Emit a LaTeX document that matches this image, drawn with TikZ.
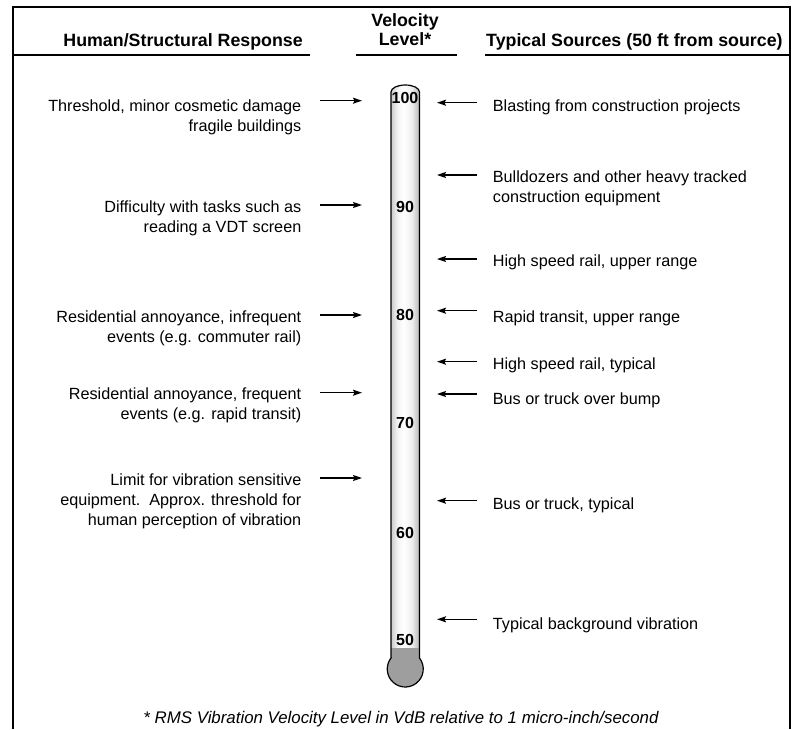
\documentclass[tikz,border=0pt]{standalone}
\usepackage{fontspec}
\setmainfont{Liberation Sans}
\usetikzlibrary{arrows.meta}
\definecolor{bulbgray}{gray}{0.62}
\pgfdeclarehorizontalshading{tubeshade}{100bp}{color(0bp)=(gray!42); color(25bp)=(gray!42);
	color(36bp)=(gray!10); color(47bp)=(white); color(62bp)=(gray!14); color(75bp)=(gray!58); color(100bp)=(gray!58)}
\tikzset{
	resp/.style={anchor=north east,align=right,inner sep=0pt,font=\fontsize{16.2}{20}\selectfont},
	source/.style={anchor=north west,align=left,inner sep=0pt,font=\fontsize{16.2}{20}\selectfont},
	colhead/.style={inner sep=0pt,font=\bfseries\fontsize{17.8}{19}\selectfont},
	level/.style={inner sep=0pt,font=\bfseries\fontsize{16}{16}\selectfont},
	arr/.style={-{Stealth[length=9pt,width=6pt,inset=1.5pt]},line width=1.4pt},
	rule/.style={line width=2pt},
}
\begin{document}
\begin{tikzpicture}[x=1pt,y=-1pt]
	\useasboundingbox (0,0) rectangle (793,729);
	% frame and column heads
	\draw [rule] (13,729) -- (13,7) -- (790,7) -- (790,729);
	\node [colhead,anchor=base east] (hresp) at (303,46.5) {Human/Structural Response};
	\node [colhead,anchor=north,align=center] (hlevel) at (405,13.5) {Velocity\\Level*};
	\node [colhead,anchor=base west] (hsrc) at (486,46.5) {Typical Sources (50 ft from source)};
	\draw [rule] (13,54.5) -- (310,54.5);
	\draw [rule] (356,54.5) -- (457,54.5);
	\draw [rule] (485,54.5) -- (790,54.5);
	% thermometer
	\shade [shading=tubeshade]
		(391,659) -- (391,92) arc [start angle=180,end angle=360,x radius=14.25,y radius=7] -- (419.5,659) -- cycle;
	\fill [bulbgray] (391,647.5) rectangle (419.5,662);
	\fill [bulbgray] (405.25,669) circle [radius=18];
	\draw [line width=1.2pt] (391,658) -- (391,92) arc [start angle=180,end angle=360,x radius=14.25,y radius=7]
		-- (419.5,658) arc [start angle=-37.66,end angle=217.66,radius=18] -- cycle;
	\foreach \v/\y in {100/98,90/206.7,80/315,70/423,60/533,50/640}
		\node [level] (lvl\v) at (405,\y) {\v};
	% human / structural response
	\node [resp] (thresh) at (301.5,99.4) {Threshold, minor cosmetic damage\\fragile buildings};
	\node [resp] (vdt) at (301.5,201) {Difficulty with tasks such as\\reading a VDT screen};
	\node [resp] (infreq) at (301.5,311) {Residential annoyance, infrequent\\events (e.g. commuter rail)};
	\node [resp] (freq) at (301.5,387.4) {Residential annoyance, frequent\\events (e.g. rapid transit)};
	\node [resp] (limit) at (301.5,473.4) {Limit for vibration sensitive\\equipment.\ \ Approx. threshold for\\human perception of vibration};
	\coordinate (thresh-h) at (362,100.7);
	\coordinate (vdt-h) at (362,205);
	\coordinate (infreq-h) at (362,315);
	\coordinate (freq-h) at (362,392.7);
	\coordinate (limit-h) at (362,478);
	\coordinate (thresh-t) at (320,100.7) edge [arr] (thresh-h);
	\coordinate (vdt-t) at (320,205) edge [arr] (vdt-h);
	\coordinate (infreq-t) at (320,315) edge [arr] (infreq-h);
	\coordinate (freq-t) at (320,392.7) edge [arr] (freq-h);
	\coordinate (limit-t) at (320,478) edge [arr] (limit-h);
	% typical sources
	\node [source] (blast) at (492.7,99.4) {Blasting from construction projects};
	\node [source] (dozer) at (492.7,170.4) {Bulldozers and other heavy tracked\\construction equipment};
	\node [source] (hsrup) at (492.7,254.4) {High speed rail, upper range};
	\node [source] (rtup) at (492.7,311) {Rapid transit, upper range};
	\node [source] (hsrtyp) at (492.7,357.4) {High speed rail, typical};
	\node [source] (bump) at (492.7,392.4) {Bus or truck over bump};
	\node [source] (bus) at (492.7,497.4) {Bus or truck, typical};
	\node [source] (backgr) at (492.7,617.4) {Typical background vibration};
	\coordinate (blast-h) at (437,102.7);
	\coordinate (dozer-h) at (437,175);
	\coordinate (hsrup-h) at (437,259);
	\coordinate (rtup-h) at (437,310.7);
	\coordinate (hsrtyp-h) at (437,361.7);
	\coordinate (bump-h) at (437,394);
	\coordinate (bus-h) at (437,500.7);
	\coordinate (backgr-h) at (437,619.3);
	\coordinate (blast-t) at (477,102.7) edge [arr] (blast-h);
	\coordinate (dozer-t) at (477,175) edge [arr] (dozer-h);
	\coordinate (hsrup-t) at (477,259) edge [arr] (hsrup-h);
	\coordinate (rtup-t) at (477,310.7) edge [arr] (rtup-h);
	\coordinate (hsrtyp-t) at (477,361.7) edge [arr] (hsrtyp-h);
	\coordinate (bump-t) at (477,394) edge [arr] (bump-h);
	\coordinate (bus-t) at (477,500.7) edge [arr] (bus-h);
	\coordinate (backgr-t) at (477,619.3) edge [arr] (backgr-h);
	% footnote
	\node [inner sep=0pt,anchor=base,font=\itshape\fontsize{16.85}{18}\selectfont] (note) at (401,723.5)
		{* RMS Vibration Velocity Level in VdB relative to 1 micro-inch/second};
\end{tikzpicture}
\end{document}
